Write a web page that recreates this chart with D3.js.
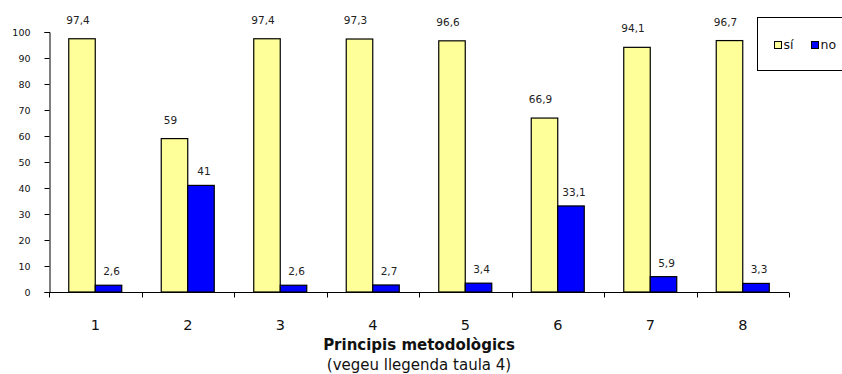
<!DOCTYPE html>
<html>
<head>
<meta charset="utf-8">
<script src="https://cdn.jsdelivr.net/npm/d3@7"></script>
<style>
  html, body { margin: 0; padding: 0; background: #fff; }
  svg { display: block; font-family: "DejaVu Sans", Verdana, sans-serif; }
</style>
</head>
<body>
<svg id="chart" width="842" height="374"></svg>
<script>
const categories = ["1", "2", "3", "4", "5", "6", "7", "8"];
const seriesNames = ["sí", "no"];
const siValues = [97.4, 59, 97.4, 97.3, 96.6, 66.9, 94.1, 96.7];
const noValues = [2.6, 41, 2.6, 2.7, 3.4, 33.1, 5.9, 3.3];
const yTicks = [0, 10, 20, 30, 40, 50, 60, 70, 80, 90, 100];
const xTitle = "Principis metodològics";
const xSubtitle = "(vegeu llegenda taula 4)";

const colors = { "sí": "#FFFF99", "no": "#0000FF" };
const svg = d3.select("#chart");

const plotLeft = 49, plotRight = 789, plotTop = 32, plotBottom = 292;

const x0 = d3.scaleBand().domain(categories).range([plotLeft, plotRight]).padding(0);
const x1 = d3.scaleBand().domain(seriesNames).range([0, x0.bandwidth()])
  .paddingInner(0).paddingOuter(0.745);
const y = d3.scaleLinear().domain([0, 100]).range([plotBottom, plotTop]);

const rows = categories.map((c, i) => ({ cat: c, values: [
  { key: "sí", value: siValues[i] },
  { key: "no", value: noValues[i] }
]}));

// bars
const groups = svg.append("g").selectAll("g").data(rows).join("g")
  .attr("transform", d => `translate(${x0(d.cat)},0)`);

groups.selectAll("rect").data(d => d.values).join("rect")
  .attr("x", d => x1(d.key))
  .attr("y", d => y(d.value))
  .attr("width", x1.bandwidth())
  .attr("height", d => y(0) - y(d.value))
  .attr("fill", d => colors[d.key])
  .attr("stroke", "#000")
  .attr("stroke-width", 1.2);

// data labels
groups.selectAll("text").data(d => d.values).join("text")
  .attr("x", d => x1(d.key) + x1.bandwidth() / 2 + (d.key === "no" ? 3 : -4))
  .attr("y", d => y(d.value) - (d.key === "no" ? 10 : 15))
  .attr("text-anchor", "middle")
  .attr("font-size", "10.5px")
  .attr("fill", "#222")
  .text(d => String(d.value).replace(".", ","));

// y axis
const yAxis = d3.axisLeft(y).tickValues(yTicks).tickSize(5).tickPadding(14)
  .tickFormat(d3.format("d"));
const gy = svg.append("g").attr("transform", `translate(${plotLeft + 0.5},0)`).call(yAxis);
gy.select(".domain").attr("stroke", "#000");
gy.selectAll(".tick line").attr("stroke", "#000");
gy.selectAll(".tick text").attr("font-size", "9.5px").attr("fill", "#111")
  .attr("font-family", "DejaVu Sans, sans-serif");

// x axis: ticks at category boundaries
const boundaries = categories.map(c => x0(c)).concat([plotRight]);
const gx = svg.append("g").attr("transform", `translate(0,${plotBottom + 0.5})`);
gx.append("line").attr("x1", plotLeft).attr("x2", plotRight).attr("stroke", "#000");
gx.selectAll("line.tk").data(boundaries).join("line").attr("class", "tk")
  .attr("x1", d => Math.round(d) + 0.5).attr("x2", d => Math.round(d) + 0.5)
  .attr("y1", 0).attr("y2", 5).attr("stroke", "#000");
gx.selectAll("text").data(categories).join("text")
  .attr("x", d => x0(d) + x0.bandwidth() / 2)
  .attr("y", 37)
  .attr("text-anchor", "middle")
  .attr("font-size", "14.5px")
  .attr("fill", "#111")
  .text(d => d);

// axis titles
const cx = (plotLeft + plotRight) / 2;
svg.append("text").attr("x", cx).attr("y", 350).attr("text-anchor", "middle")
  .attr("font-size", "15px").attr("font-weight", "bold").attr("fill", "#111").text(xTitle);
svg.append("text").attr("x", cx).attr("y", 370).attr("text-anchor", "middle")
  .attr("font-size", "15px").attr("fill", "#111").text(xSubtitle);

// legend
const lg = svg.append("g").attr("transform", "translate(757.5,17.5)");
lg.append("rect").attr("width", 110).attr("height", 53)
  .attr("fill", "#fff").attr("stroke", "#000");
const items = lg.selectAll("g.item").data(seriesNames).join("g").attr("class", "item")
  .attr("transform", (d, i) => `translate(${17 + i * 37},24)`);
items.append("rect").attr("width", 7).attr("height", 7)
  .attr("fill", d => colors[d]).attr("stroke", "#000");
items.append("text").attr("x", 9).attr("y", 7.5).attr("font-size", "12.5px")
  .attr("fill", "#111").text(d => d);
</script>
</body>
</html>
